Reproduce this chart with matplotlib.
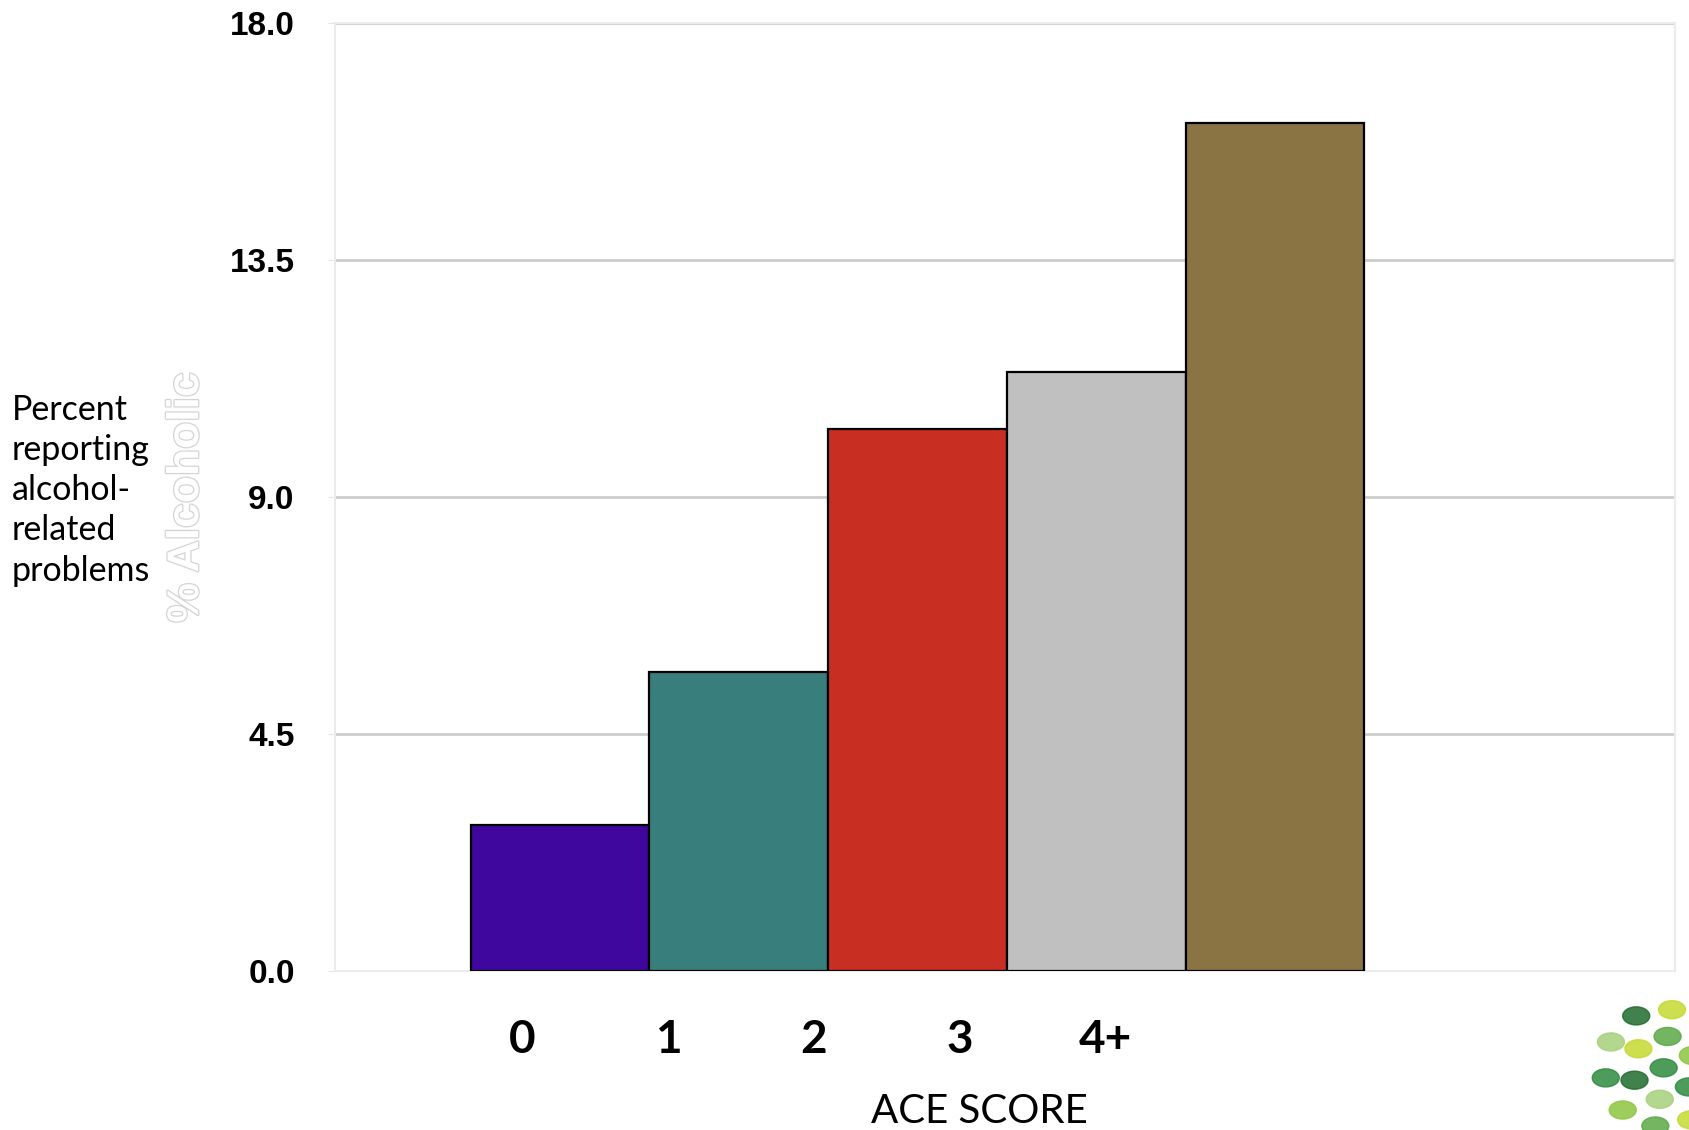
import numpy as np
import matplotlib
matplotlib.use('Agg')
import matplotlib.pyplot as plt
import matplotlib.patheffects as pe
from matplotlib.patches import Circle

ace_scores = ['0', '1', '2', '3', '4+']
pct_alcohol = [2.78, 5.69, 10.29, 11.38, 16.1]
bar_colors = ['#3f079e', '#377e7c', '#c92e23', '#c0c0c0', '#8b7443']
y_ticks = [0.0, 4.5, 9.0, 13.5, 18.0]

fig = plt.figure(figsize=(16.89, 11.3), dpi=100)
ax = fig.add_axes([0.1983, 0.1403, 0.7935, 0.8393])

x = list(range(len(ace_scores)))
ax.bar(x, pct_alcohol, width=1.0, color=bar_colors, edgecolor='black',
       linewidth=1.6, zorder=3)

ax.set_xlim(-1.26, 6.24)
ax.set_ylim(0, 18)
ax.set_yticks(y_ticks)
ax.set_yticklabels(['%.1f' % v for v in y_ticks], fontfamily='Liberation Sans',
                   fontweight='bold', fontsize=24)
ax.yaxis.grid(True, color='#cdcdcd', linewidth=2, zorder=0)
ax.tick_params(axis='y', length=5, color='#e6e6e6', pad=24)

# category labels sit offset from the bars, as on the slide
label_pos = [-0.21 + 0.815 * i for i in range(len(ace_scores))]
ax.set_xticks(label_pos)
ax.set_xticklabels(ace_scores, fontfamily='Lato', fontweight='bold', fontsize=33)
ax.tick_params(axis='x', length=0, pad=34)

for s in ax.spines.values():
    s.set_color('#ebebeb')
    s.set_linewidth(1.5)

fig.text(0.580, 0.006, 'ACE SCORE', fontfamily='Lato', fontsize=29,
         ha='center', va='baseline')

fig.text(0.007, 0.566, 'Percent\nreporting\nalcohol-\nrelated\nproblems',
         fontfamily='Lato', fontsize=24.5, ha='left', va='center',
         linespacing=1.31)

ghost = fig.text(0.1105, 0.560, '% Alcoholic', fontfamily='Liberation Sans',
                 fontweight='bold', fontsize=32, rotation=90, color='white',
                 ha='center', va='center')
ghost.set_path_effects([pe.withStroke(linewidth=1.8, foreground='#d4d4d4')])

# partial logo in the corner (tree of green hands), rough stand-in
logo_greens = ['#2e8b3e', '#8cc63f', '#5aa845', '#c5d930', '#1f6b2e', '#a6d07a']
for ring, (rad, n) in enumerate([(0.0, 1), (0.028, 6), (0.052, 10)]):
    for k in range(n):
        ang = 2 * np.pi * k / n + ring * 0.4
        cx = 0.985 + rad * np.cos(ang) * 0.669
        cy = 0.055 + rad * np.sin(ang)
        fig.patches.append(Circle((cx, cy), 0.008, transform=fig.transFigure,
                                  color=logo_greens[(k + ring) % len(logo_greens)],
                                  alpha=0.85))

fig.savefig('out.png', dpi=100, facecolor='white')
